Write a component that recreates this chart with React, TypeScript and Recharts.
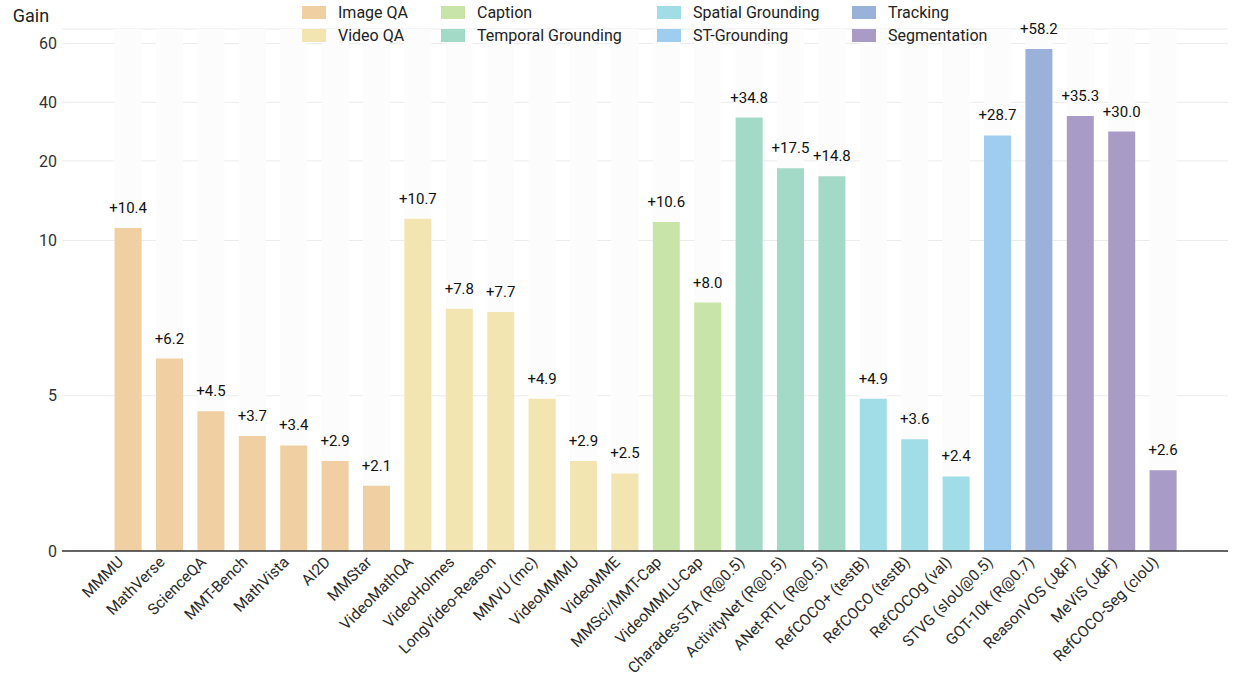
import React from 'react';
import { BarChart, Bar, XAxis, YAxis, CartesianGrid, Cell, LabelList, Legend } from 'recharts';

const categories = [
  'MMMU', 'MathVerse', 'ScienceQA', 'MMT-Bench', 'MathVista', 'AI2D', 'MMStar',
  'VideoMathQA', 'VideoHolmes', 'LongVideo-Reason', 'MMVU (mc)', 'VideoMMMU', 'VideoMME',
  'MMSci/MMT-Cap', 'VideoMMLU-Cap',
  'Charades-STA (R@0.5)', 'ActivityNet (R@0.5)', 'ANet-RTL (R@0.5)',
  'RefCOCO+ (testB)', 'RefCOCO (testB)', 'RefCOCOg (val)',
  'STVG (sIoU@0.5)', 'GOT-10k (R@0.7)',
  'ReasonVOS (J&F)', 'MeViS (J&F)', 'RefCOCO-Seg (cIoU)',
];

const gains = [
  10.4, 6.2, 4.5, 3.7, 3.4, 2.9, 2.1,
  10.7, 7.8, 7.7, 4.9, 2.9, 2.5,
  10.6, 8.0,
  34.8, 17.5, 14.8,
  4.9, 3.6, 2.4,
  28.7, 58.2,
  35.3, 30.0, 2.6,
];

const groupOf = [
  0, 0, 0, 0, 0, 0, 0,
  1, 1, 1, 1, 1, 1,
  2, 2,
  3, 3, 3,
  4, 4, 4,
  5, 6,
  7, 7, 7,
];

const groupNames = [
  'Image QA', 'Video QA', 'Caption', 'Temporal Grounding',
  'Spatial Grounding', 'ST-Grounding', 'Tracking', 'Segmentation',
];

const groupColors = [
  '#F0CFA3', '#F2E5B1', '#C8E4A8', '#A3D9C7',
  '#A0DDE6', '#9ECDF0', '#9AB2DA', '#A89CC7',
];

const yTickValues = [0, 5, 10, 20, 40, 60];
const yMax = 65;

// piecewise-linear (broken) y scale
const BREAK = 11.79;
const UPPER_RATIO = 0.0944;
const fwd = (v: number) => (v <= BREAK ? v : BREAK + (v - BREAK) * UPPER_RATIO);
const inv = (t: number) => (t <= BREAK ? t : BREAK + (t - BREAK) / UPPER_RATIO);

const FONT = 'Roboto, "Noto Sans", sans-serif';

const data = categories.map((name, i) => ({
  name,
  gain: gains[i],
  plotted: fwd(gains[i]),
  group: groupOf[i],
}));

const legendColumns = [[0, 1], [2, 3], [4, 5], [6, 7]];
const legendColWidths = [139, 216, 195, 160];

const renderLegend = () => (
  <div style={{ display: 'flex', fontFamily: FONT, fontSize: 16, color: '#222' }}>
    {legendColumns.map((col, ci) => (
      <div key={ci} style={{ width: legendColWidths[ci] }}>
        {col.map((gi) => (
          <div key={gi} style={{ display: 'flex', alignItems: 'center', height: 23 }}>
            <span style={{ display: 'inline-block', width: 24, height: 13, background: groupColors[gi], marginRight: 12 }} />
            <span style={{ whiteSpace: 'nowrap' }}>{groupNames[gi]}</span>
          </div>
        ))}
      </div>
    ))}
  </div>
);

const XTick = (props: any) => {
  const { x, y, payload } = props;
  return (
    <g transform={`translate(${x - 4},${y + 12})`}>
      <text
        x={0}
        y={0}
        textAnchor="end"
        transform="rotate(-45)"
        fontFamily={FONT}
        fontSize={15.5}
        fill="#2a2a2a"
      >
        {payload.value}
      </text>
    </g>
  );
};

export default function App() {
  return (
    <div style={{ position: 'absolute', left: 0, top: 0, width: 1233, height: 678, background: '#fff' }}>
      <BarChart
        width={1233}
        height={678}
        data={data}
        margin={{ top: 29, right: 5, left: 0, bottom: 0 }}
        barSize={27}
      >
        <CartesianGrid vertical={false} stroke="#ebebeb" strokeWidth={1} />
        <XAxis
          dataKey="name"
          interval={0}
          height={127}
          padding={{ left: 45.6, right: 44 }}
          tickLine={false}
          tickSize={0}
          tickMargin={0}
          axisLine={{ stroke: '#333', strokeWidth: 1.5 }}
          tick={<XTick />}
        />
        <YAxis
          type="number"
          width={62}
          domain={[0, fwd(yMax)]}
          ticks={yTickValues.map(fwd)}
          allowDataOverflow
          axisLine={false}
          tickLine={false}
          tickSize={0}
          tickMargin={5}
          tickFormatter={(t: number) => String(Math.round(inv(t)))}
          tick={{ fontFamily: FONT, fontSize: 16, fill: '#333' }}
          label={{ value: 'Gain', position: 'top', offset: 7, fontFamily: FONT, fontSize: 18, fill: '#222' }}
        />
        <Legend
          layout="horizontal"
          verticalAlign="middle"
          align="center"
          wrapperStyle={{ top: 1, left: 302, width: 760 }}
          content={renderLegend}
        />
        <Bar dataKey="plotted" isAnimationActive={false} background={{ fill: '#fcfcfc' }}>
          {data.map((d, i) => (
            <Cell key={i} fill={groupColors[d.group]} />
          ))}
          <LabelList
            dataKey="gain"
            position="top"
            offset={15}
            formatter={(v: any) => `+${Number(v).toFixed(1)}`}
            style={{ fontFamily: FONT, fontSize: 15, fill: '#111' }}
          />
        </Bar>
      </BarChart>
    </div>
  );
}
